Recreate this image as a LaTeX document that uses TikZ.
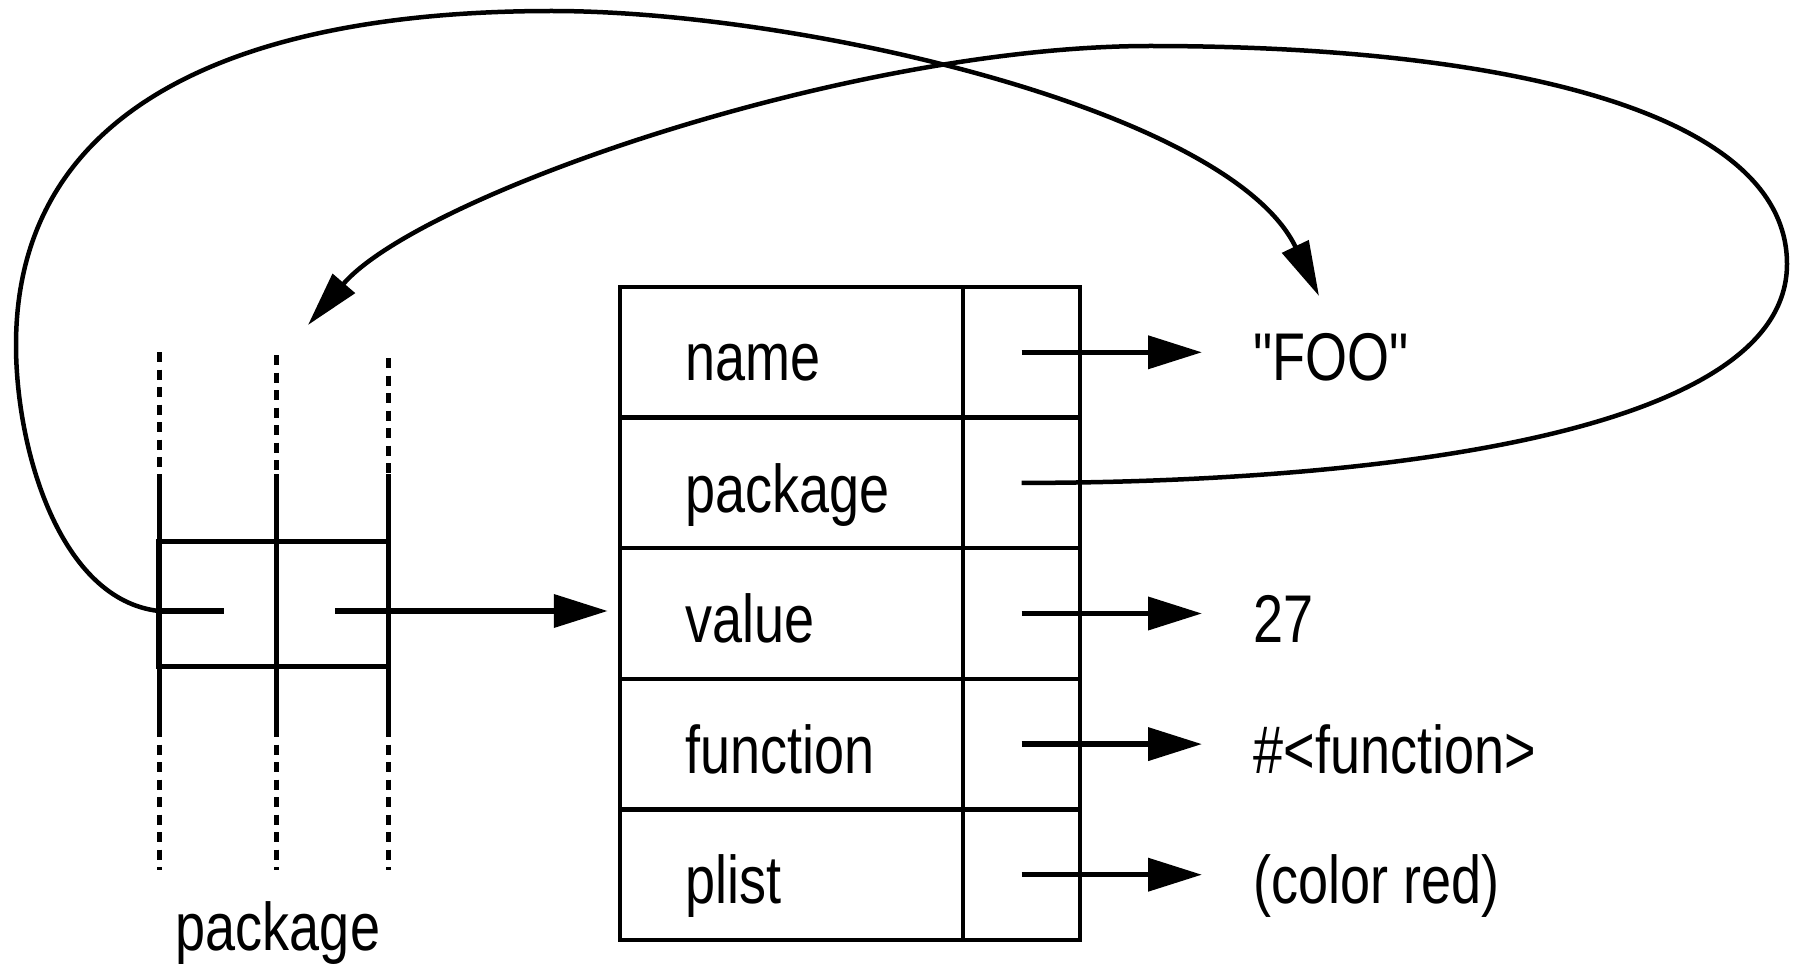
\documentclass[tikz,border=0pt]{standalone}
\usepackage{fontspec}
\setmainfont{Liberation Sans}[FakeStretch=0.8,Ligatures=TeXOff]
\usetikzlibrary{arrows.meta}
\begin{document}
\begin{tikzpicture}[x=0.4pt,y=-0.4pt,
  txt/.style={inner sep=0pt,font=\fontsize{27}{30}\selectfont},
  lbl/.style={txt,anchor=base west},
  cellL/.style={draw,line width=1.8pt,minimum width=137.2pt,minimum height=52.24pt,inner sep=0pt},
  cellR/.style={draw,line width=1.8pt,minimum width=46.8pt,minimum height=52.24pt,inner sep=0pt},
  arr/.style={line width=2.2pt,-{Triangle[length=21.6pt,width=13pt]}},
  curvearr/.style={line width=1.8pt,-{Triangle[length=22pt,width=11.5pt]}},
  solidln/.style={line width=2pt},
  dotln/.style={line width=2pt,dash pattern=on 4pt off 3pt}
]
\useasboundingbox (0,0) rectangle (1802,966);

% ---- table ----
\node[cellL] (l1) at (791.5,352.3) {};
\node[cellR] (r1) at (1021.5,352.3) {};
\node[cellL] (l2) at (791.5,482.9) {};
\node[cellR] (r2) at (1021.5,482.9) {};
\node[cellL] (l3) at (791.5,613.5) {};
\node[cellR] (r3) at (1021.5,613.5) {};
\node[cellL] (l4) at (791.5,744.1) {};
\node[cellR] (r4) at (1021.5,744.1) {};
\node[cellL] (l5) at (791.5,874.7) {};
\node[cellR] (r5) at (1021.5,874.7) {};

\node[lbl] (n1) at (685,381) {name};
\node[lbl] (n2) at (685,512) {package};
\node[lbl] (n3) at (685,642) {value};
\node[lbl] (n4) at (685,773) {function};
\node[lbl] (n5) at (685,903) {plist};

% ---- values ----
\node[lbl] (t1) at (1253,381) {"FOO"};
\node[lbl] (t3) at (1253,642) {27};
\node[lbl] (t4) at (1253,773) {\#<function>};
\node[lbl] (t5) at (1253,903) {(color red)};

\draw[arr,shorten >=20.4pt] (r1.center) -- (r1.center -| t1.west);
\draw[arr,shorten >=20.4pt] (r3.center) -- (r3.center -| t3.west);
\draw[arr,shorten >=20.4pt] (r4.center) -- (r4.center -| t4.west);
\draw[arr,shorten >=20.4pt] (r5.center) -- (r5.center -| t5.west);

% ---- package structure ----
\node[draw,line width=2pt,minimum width=91.6pt,minimum height=50pt,inner sep=0pt] (slot) at (273.5,603.5) {};
\draw[dotln] (159,352) -- (159,474);
\draw[solidln] (159,474) -- (159,727);
\draw[dotln] (159,727) -- (159,870);
\draw[dotln] (276,355) -- (276,474);
\draw[solidln] (276,474) -- (276,727);
\draw[dotln] (276,727) -- (276,870);
\draw[dotln] (388,358) -- (388,474);
\draw[solidln] (388,474) -- (388,727);
\draw[dotln] (388,727) -- (388,870);
\node[txt,anchor=base] (pkglbl) at (278,950) {package};

\coordinate (cs) at (159,611);
\coordinate (cse) at (224,611);
\coordinate (rs) at (335,611);
\draw[line width=2.2pt] (cs) -- (cse);
\draw[arr,shorten >=4pt] (rs) -- (rs -| l3.west);

% ---- curves ----
\coordinate (fooin) at (1319,296);
\coordinate (pkgin) at (308,325);
\draw[curvearr] (cs) .. controls (60,600) and (16,450) .. (16,345)
  .. controls (16,100) and (250,11) .. (552,11)
  .. controls (800,11) and (1230,110) .. (fooin);
\draw[curvearr] (r2.center) .. controls (1300,483) and (1787,450) .. (1787,264)
  .. controls (1787,110) and (1500,46) .. (1150,46)
  .. controls (850,46) and (420,195) .. (pkgin);
\end{tikzpicture}
\end{document}
